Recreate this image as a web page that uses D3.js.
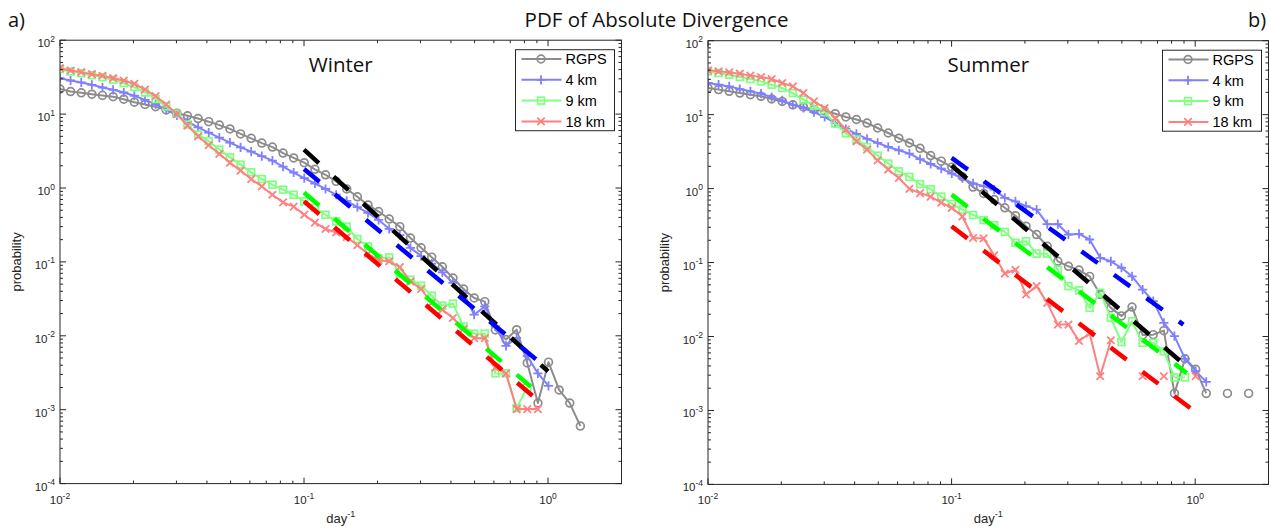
<!DOCTYPE html>
<html><head><meta charset="utf-8">
<script src="https://cdn.jsdelivr.net/npm/d3@7"></script>
<style>body{margin:0;background:#fff}svg{display:block}</style>
</head><body><svg id="chart" width="1270" height="529"></svg>
<script>
// ---------- DATA ----------
const bins = [0.0100,0.01105,0.01222,0.01351,0.01493,0.01651,0.01825,0.02017,0.02230,0.02465,
  0.02724,0.03012,0.03329,0.03680,0.04068,0.04497,0.04971,0.05495,0.06074,0.06714,
  0.07422,0.08204,0.09069,0.1002,0.1108,0.1225,0.1354,0.1496,0.1654,0.1829,
  0.2021,0.2234,0.2470,0.2730,0.3018,0.3336,0.3688,0.4076,0.4506,0.4981,
  0.5506,0.6086,0.6727,0.7436,0.8220,0.9087,1.0044,1.1102,1.2273,1.3566,1.4996,1.6577];

const seriesNames = ["RGPS", "4 km", "9 km", "18 km"];

const winterRGPS = [21.8,20.2,19.4,18.6,17.9,17.2,15.9,14.5,13.5,12.6,11.4,10.3,9.5,8.7,7.9,7.1,6.3,5.4,4.7,4.05,
  3.58,2.97,2.55,2.2,1.79,1.51,1.23,0.97,0.76,0.59,0.48,0.38,0.30,0.21,0.155,0.116,0.086,0.0605,0.043,0.0325,
  0.029,0.012,0.0089,0.0121,0.0043,0.00123,0.0044,0.00185,0.00123,0.0006];
const winter4km = [30.6,28.5,26.8,24.9,22.9,21.3,19.6,17.7,15.6,13.6,11.5,9.6,7.9,6.6,5.6,4.8,4.1,3.55,3.1,2.7,
  2.35,1.95,1.62,1.36,1.15,0.97,0.81,0.67,0.55,0.46,0.37,0.28,0.23,0.155,0.12,0.095,0.072,0.052,0.038,0.0193,
  0.025,0.0134,0.0073,0.0094,0.0053,0.0031,0.0021];
const winter9km = [40.5,37.7,35.8,33.7,31.6,29.1,26.2,23.2,19.6,16.0,12.7,10.1,7.2,5.3,4.3,3.3,2.6,2.07,1.63,1.32,
  1.11,0.95,0.81,0.66,0.54,0.435,0.354,0.30,0.204,0.162,0.112,0.115,0.069,0.0575,0.0476,0.0349,0.0256,0.0272,0.0134,0.0107,
  0.0107,0.0031,0.0031,0.00105,0.002];
const winter18km = [41.8,38.9,37,34.7,33,30.6,28.5,25.7,21.5,17.5,13.5,10,7.0,5.0,3.8,2.9,2.2,1.72,1.32,1.05,
  0.81,0.64,0.56,0.435,0.34,0.279,0.25,0.217,0.168,0.129,0.105,0.102,0.085,0.0546,0.043,0.0278,0.0226,0.0174,0.0124,0.0093,
  0.0093,0.0037,0.0031,0.00102,0.00102,0.00102];

const summerRGPS = [22.9,21.8,20.7,19.6,18.6,17.7,16.3,15.1,13.6,12.7,11.7,11.2,10.3,9.3,8.6,7.7,6.6,5.65,4.8,4.14,
  3.5,2.8,2.35,1.95,1.45,1.05,0.86,0.71,0.55,0.43,0.31,0.239,0.166,0.104,0.089,0.079,0.065,0.037,0.0244,0.019,
  0.025,0.0105,0.0106,0.012,0.0017,0.005,0.0036,0.0017,null,0.0017,null,0.0017];
const summer4km = [26.8,25.4,24.1,22.2,20.7,19.2,17.3,15.6,13.6,12.3,10.8,9.3,7.7,6.4,5.5,4.7,4.14,3.66,3.3,2.97,
  2.5,2.15,1.86,1.6,1.38,1.18,1.08,0.97,0.75,0.67,0.58,0.52,0.33,0.33,0.239,0.244,0.205,0.116,0.104,0.085,
  0.065,0.043,0.03,0.0153,0.0101,0.005,0.0034,0.00244];
const summer9km = [38.5,36.6,34.7,32.3,30.3,28.2,25.4,22.9,19.6,16.0,13.2,10.8,7.6,5.6,4.6,3.66,2.79,2.18,1.71,1.44,
  1.15,0.98,0.78,0.62,0.52,0.44,0.375,0.32,0.26,0.185,0.194,0.132,0.132,0.08,0.048,0.042,0.0244,0.039,0.0179,0.0084,
  0.0161,0.0082,0.0082,0.0063,0.0028,0.0028];
const summer18km = [39.7,38.5,37.3,35.8,33.7,32.3,30.3,26.8,24.1,19.6,15.1,12.3,9.0,6.3,4.36,3.37,2.41,1.81,1.39,0.99,
  0.87,0.78,0.645,0.55,0.42,0.215,0.212,0.125,0.071,0.08,0.037,0.048,0.0285,0.0145,0.0145,0.0087,0.011,0.0029,0.0089,null,
  null,0.0029,null,0.0029,null,null,0.0029];

// power-law fit segments (start at x = 0.1), order: RGPS, 4 km, 9 km, 18 km
const fitStartX = 0.1;
const winterFitEndX = [1.0, 0.907, 0.85, 0.885];
const winterFitStartY = [3.3, 1.81, 0.87, 0.66];
const winterFitEndY = [0.0033, 0.0046, 0.00204, 0.00144];
const summerFitEndX = [0.88, 0.894, 0.923, 0.967];
const summerFitStartY = [2.05, 2.6, 0.83, 0.31];
const summerFitEndY = [0.0045, 0.01446, 0.00321, 0.00104];

const xTickValues = [0.01, 0.1, 1];
const xTickExps = ["-2", "-1", "0"];
const yTickValues = [1e-4, 1e-3, 1e-2, 1e-1, 1, 10, 100];
const yTickExps = ["-4", "-3", "-2", "-1", "0", "1", "2"];

// ---------- STYLE ----------
const dataColors = ["#8c8c8c", "#8080ff", "#80ff80", "#ff8080"];
const fitColors = ["#000000", "#0000ff", "#00ff00", "#ff0000"];
const markers = ["circle", "plus", "square", "cross"];
const axisColor = "#262626";

const svg = d3.select("#chart");
svg.append("rect").attr("width", 1270).attr("height", 529).attr("fill", "#fff");

const panels = [
  {title: "Winter", tag: "a)", tagX: 8, left: 60, right: 621.5, top: 40.2, bottom: 483.6,
   series: [winterRGPS, winter4km, winter9km, winter18km],
   fitEndX: winterFitEndX, fitStartY: winterFitStartY, fitEndY: winterFitEndY},
  {title: "Summer", tag: "b)", tagX: 1248, left: 708, right: 1268.5, top: 40.7, bottom: 484.4,
   series: [summerRGPS, summer4km, summer9km, summer18km],
   fitEndX: summerFitEndX, fitStartY: summerFitStartY, fitEndY: summerFitEndY}
];

function drawMarker(g, type, color, cx, cy) {
  if (type === "circle") {
    g.append("circle").attr("cx", cx).attr("cy", cy).attr("r", 3.9)
      .attr("fill", "none").attr("stroke", color).attr("stroke-width", 1.7);
  } else if (type === "plus") {
    g.append("path").attr("d", `M${cx-4.6},${cy}H${cx+4.6}M${cx},${cy-4.6}V${cy+4.6}`)
      .attr("stroke", color).attr("stroke-width", 1.8).attr("fill", "none");
  } else if (type === "square") {
    g.append("rect").attr("x", cx-3.4).attr("y", cy-3.4).attr("width", 6.8).attr("height", 6.8)
      .attr("fill", "none").attr("stroke", color).attr("stroke-width", 1.7);
  } else {
    g.append("path").attr("d", `M${cx-3.7},${cy-3.7}L${cx+3.7},${cy+3.7}M${cx-3.7},${cy+3.7}L${cx+3.7},${cy-3.7}`)
      .attr("stroke", color).attr("stroke-width", 1.8).attr("fill", "none");
  }
}

svg.append("text").attr("x", 656.5).attr("y", 27).attr("text-anchor", "middle")
  .attr("font-family", "'Open Sans', sans-serif").attr("font-size", 20.5).attr("fill", "#111")
  .text("PDF of Absolute Divergence");

panels.forEach((p, pi) => {
  const x = d3.scaleLog().domain([0.01, 2]).range([p.left, p.right]);
  const y = d3.scaleLog().domain([1e-4, 1e2]).range([p.bottom, p.top]);
  const g = svg.append("g");

  const clipId = "clip" + pi;
  svg.append("clipPath").attr("id", clipId).append("rect")
    .attr("x", p.left).attr("y", p.top).attr("width", p.right - p.left).attr("height", p.bottom - p.top);

  svg.append("text").attr("x", p.tagX).attr("y", 27)
    .attr("font-family", "'Open Sans', sans-serif").attr("font-size", 20).attr("fill", "#111").text(p.tag);

  const plot = g.append("g").attr("clip-path", `url(#${clipId})`);
  p.series.forEach((vals, si) => {
    const pts = vals.map((v, i) => ({x: bins[i], v}));
    const line = d3.line().defined(d => d.v != null).x(d => x(d.x)).y(d => y(d.v));
    plot.append("path").attr("d", line(pts)).attr("fill", "none")
      .attr("stroke", dataColors[si]).attr("stroke-width", 2).attr("stroke-linejoin", "round");
    const mg = plot.append("g");
    pts.filter(d => d.v != null).forEach(d => drawMarker(mg, markers[si], dataColors[si], x(d.x), y(d.v)));
  });

  p.fitEndX.forEach((xe, fi) => {
    const pts = [{x: fitStartX, v: p.fitStartY[fi]}, {x: xe, v: p.fitEndY[fi]}];
    const line = d3.line().x(d => x(d.x)).y(d => y(d.v));
    plot.append("path").attr("d", line(pts)).attr("fill", "none")
      .attr("stroke", fitColors[fi]).attr("stroke-width", 4.5)
      .attr("stroke-dasharray", "20 20").attr("stroke-linecap", "butt");
  });

  const ax = g.append("g").attr("stroke", axisColor).attr("stroke-width", 1).attr("fill", "none");
  ax.append("rect").attr("x", p.left).attr("y", p.top)
    .attr("width", p.right - p.left).attr("height", p.bottom - p.top);

  const xMinor = [], yMinor = [];
  [0.01, 0.1, 1].forEach(d => { for (let m = 2; m <= 9; m++) { const v = d*m; if (v <= 2.0001) xMinor.push(v); } });
  [1e-4, 1e-3, 1e-2, 1e-1, 1, 10].forEach(d => { for (let m = 2; m <= 9; m++) yMinor.push(d*m); });
  const tick = (x1, y1, x2, y2) => ax.append("line").attr("x1", x1).attr("y1", y1).attr("x2", x2).attr("y2", y2);
  xTickValues.forEach(v => { const X = x(v); tick(X, p.bottom, X, p.bottom - 6); tick(X, p.top, X, p.top + 6); });
  xMinor.forEach(v => { const X = x(v); tick(X, p.bottom, X, p.bottom - 3); tick(X, p.top, X, p.top + 3); });
  yTickValues.forEach(v => { const Y = y(v); tick(p.left, Y, p.left + 6, Y); tick(p.right, Y, p.right - 6, Y); });
  yMinor.forEach(v => { const Y = y(v); tick(p.left, Y, p.left + 3, Y); tick(p.right, Y, p.right - 3, Y); });

  const lab = g.append("g").attr("font-family", "'Liberation Sans', Arial, sans-serif").attr("fill", axisColor);
  xTickValues.forEach((v, i) => {
    const t = lab.append("text").attr("text-anchor", "middle")
      .attr("x", x(v)).attr("y", 504).attr("font-size", 11.5);
    t.append("tspan").text("10");
    t.append("tspan").attr("font-size", 8.5).attr("dy", -5.5).text(xTickExps[i]);
  });
  yTickValues.forEach((v, i) => {
    const t = lab.append("text").attr("text-anchor", "end")
      .attr("x", p.left - 5).attr("y", y(v) + 7).attr("font-size", 11.5);
    t.append("tspan").text("10");
    t.append("tspan").attr("font-size", 8.5).attr("dy", -5.5).text(yTickExps[i]);
  });

  const xl = lab.append("text").attr("x", (p.left + p.right) / 2).attr("y", 523)
    .attr("text-anchor", "middle").attr("font-size", 13);
  xl.append("tspan").text("day");
  xl.append("tspan").attr("font-size", 9).attr("dy", -6).text("-1");
  lab.append("text").attr("transform", `translate(${p.left - 39.5},${(p.top + p.bottom) / 2}) rotate(-90)`)
    .attr("text-anchor", "middle").attr("font-size", 13).text("probability");

  svg.append("text").attr("x", (p.left + p.right) / 2).attr("y", 72).attr("text-anchor", "middle")
    .attr("font-family", "'Open Sans', sans-serif").attr("font-size", 20.5).attr("fill", "#111").text(p.title);

  const bw = 99, bh = 81;
  const bx = p.right - 7 - bw, by = p.top + 9.5;
  const lg = svg.append("g");
  lg.append("rect").attr("x", bx).attr("y", by).attr("width", bw).attr("height", bh)
    .attr("fill", "#fff").attr("stroke", axisColor).attr("stroke-width", 1);
  seriesNames.forEach((name, si) => {
    const ry = by + 9.3 + 20.8 * si;
    lg.append("line").attr("x1", bx + 6).attr("x2", bx + 46).attr("y1", ry).attr("y2", ry)
      .attr("stroke", dataColors[si]).attr("stroke-width", 2);
    drawMarker(lg, markers[si], dataColors[si], bx + 25.5, ry);
    lg.append("text").attr("x", bx + 50).attr("y", ry + 5.2)
      .attr("font-family", "'Liberation Sans', Arial, sans-serif").attr("font-size", 14.5)
      .attr("fill", "#000").text(name);
  });
});
</script>
</body></html>
